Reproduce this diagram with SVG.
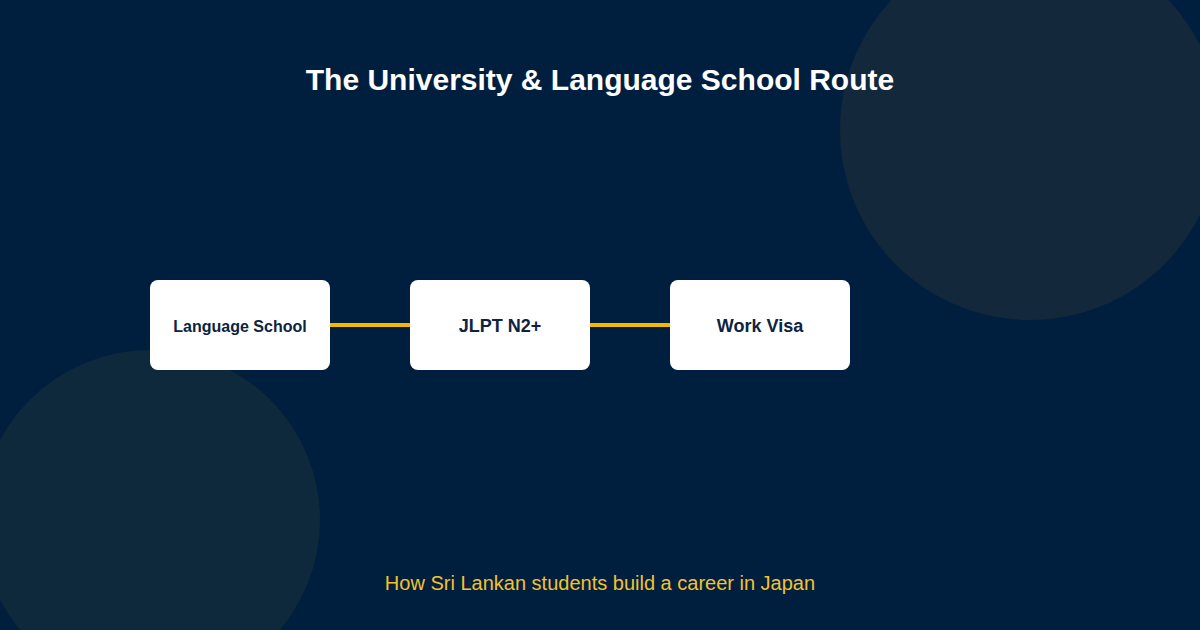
<svg xmlns="http://www.w3.org/2000/svg" width="1200" height="630" viewBox="0 0 1200 630">
<style>
.node rect{fill:#ffffff}
.node text{font-family:"Liberation Sans",Arial,sans-serif;font-weight:bold;fill:#0d2340;text-anchor:middle}
.conn{stroke:#f5b800;stroke-width:4}
</style>
<rect x="0" y="0" width="1200" height="630" fill="#001f3f"/>
<circle cx="1030" cy="130" r="190" fill="#13283a"/>
<circle cx="150" cy="520" r="170" fill="#0e293b"/>
<text x="600" y="90" text-anchor="middle" font-family="'Liberation Sans',Arial,sans-serif" font-weight="bold" font-size="30" fill="#ffffff">The University &amp; Language School Route</text>
<g id="connectors">
<line class="conn" x1="330" y1="325" x2="410" y2="325"/>
<line class="conn" x1="590" y1="325" x2="670" y2="325"/>
</g>
<g id="node-language-school" class="node">
<rect x="150" y="280" width="180" height="90" rx="8"/>
<text x="240" y="332" font-size="16">Language School</text>
</g>
<g id="node-jlpt" class="node">
<rect x="410" y="280" width="180" height="90" rx="8"/>
<text x="500" y="332" font-size="18">JLPT N2+</text>
</g>
<g id="node-work-visa" class="node">
<rect x="670" y="280" width="180" height="90" rx="8"/>
<text x="760" y="332" font-size="18">Work Visa</text>
</g>
<text x="600" y="590" text-anchor="middle" font-family="'Liberation Sans',Arial,sans-serif" font-size="20" fill="#f2c230">How Sri Lankan students build a career in Japan</text>
</svg>
